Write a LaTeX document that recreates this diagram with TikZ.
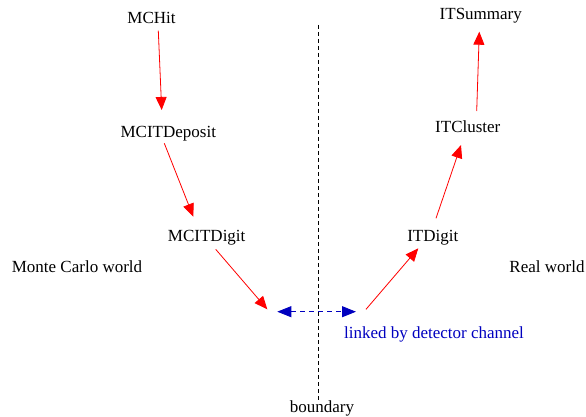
\documentclass[tikz,border=0pt]{standalone}
\usepackage{fontspec}
\setmainfont{Liberation Serif}
\newfontfamily\labelfont{Liberation Serif}
\usepackage{tikz}
\usetikzlibrary{arrows.meta, positioning}
\definecolor{linkblue}{rgb}{0, 0, 0.75}
\definecolor{flowred}{rgb}{1, 0, 0}

\begin{document}
\begin{tikzpicture}[x=1pt, y=-1pt,
	every node/.style={font=\labelfont\fontsize{17}{20}\selectfont, inner sep=0pt, outer sep=0pt, text height=12pt, text depth=4pt, anchor=base},
	flow/.style={draw=flowred, line width=0.8pt, -{Triangle[length=13pt, width=11pt]}, fill=none},
	link/.style={draw=linkblue, line width=0.8pt, dash pattern=on 5pt off 4pt, {Triangle[length=14pt, width=11pt]}-{Triangle[length=14pt, width=11pt]}},
	boundaryline/.style={draw=black, line width=0.6pt, dash pattern=on 4pt off 3pt}]
				\useasboundingbox (0,0) rectangle (586,417);
				
				\node (hit) at (151.5,23.3) {MCHit};
				\node (deposit) at (168.3,137.3) {MCITDeposit};
				\node (mcdigit) at (206.7,241.7) {MCITDigit};
				\node (mcworld) at (77,272) {Monte Carlo world};
				
				\node (summary) at (480.8,20) {ITSummary};
				\node (cluster) at (467.8,132.7) {ITCluster};
				\node (digit) at (432.8,241) {ITDigit};
				\node (realworld) at (547,272) {Real world};
				
				\node (bound) at (322,412) {boundary};
				\node [linkblue] (linked) at (434,338) {linked by detector channel};
				
				\coordinate (top) at (318.3,25);
				\coordinate (mcend) at (267.3,309.3);
				\coordinate (rlstart) at (366,309.3);
				\coordinate (linkleft) at (277.3,311.7);
				\coordinate (linkright) at (356,311.7);
				
				\draw [boundaryline] (top) -- (top |- bound.north);
				
				\draw [flow] ([xshift=6.8pt, yshift=-3.4pt]hit.south) -- ([xshift=-6.6pt, yshift=15.3pt]deposit.north);
				\draw [flow] ([xshift=-4pt, yshift=-2pt]deposit.south) -- ([xshift=-13.4pt, yshift=13pt]mcdigit.north);
				\draw [flow] ([xshift=9pt, yshift=-3.6pt]mcdigit.south) -- (mcend);
				
				\draw [flow] (rlstart) -- ([xshift=-14.5pt, yshift=-3.3pt]digit.south);
				\draw [flow] ([xshift=3.2pt, yshift=10.7pt]digit.north) -- ([xshift=-6.8pt, yshift=-8.3pt]cluster.south);
				\draw [flow] ([xshift=8.9pt, yshift=9.7pt]cluster.north) -- ([xshift=-1.5pt, yshift=-7.7pt]summary.south);
				
				\draw [link] (linkleft) -- (linkright);
\end{tikzpicture}
\end{document}
